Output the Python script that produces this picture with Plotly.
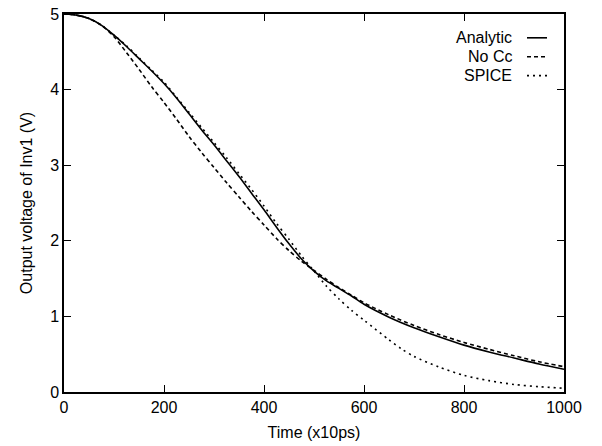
import plotly.graph_objects as go

t_analytic = [0, 25, 50, 75, 100, 125, 150, 175, 200, 225, 250, 275, 300, 325, 350, 375, 400, 425, 450, 475,
              500, 525, 550, 575, 600, 650, 700, 750, 800, 850, 900, 950, 1000]
v_analytic = [5.0, 4.985, 4.94, 4.85, 4.72, 4.57, 4.41, 4.25, 4.08, 3.89, 3.68, 3.47, 3.27, 3.06, 2.85, 2.63,
              2.41, 2.18, 1.96, 1.76, 1.60, 1.47, 1.37, 1.27, 1.16, 0.99, 0.85, 0.73, 0.62, 0.53, 0.45, 0.37, 0.30]

t_nocc = [0, 25, 50, 75, 100, 125, 150, 175, 200, 225, 250, 275, 300, 325, 350, 375, 400, 425, 450, 475,
          500, 525, 550, 575, 600, 650, 700, 750, 800, 850, 900, 950, 1000]
v_nocc = [5.0, 4.985, 4.94, 4.85, 4.70, 4.49, 4.27, 4.04, 3.83, 3.61, 3.38, 3.17, 2.97, 2.77, 2.58, 2.39,
          2.21, 2.03, 1.87, 1.73, 1.61, 1.49, 1.38, 1.28, 1.18, 1.02, 0.88, 0.76, 0.655, 0.565, 0.48, 0.40, 0.335]

t_spice = [0, 25, 50, 75, 100, 125, 150, 175, 200, 225, 250, 275, 300, 325, 350, 375, 400, 425, 450, 475,
           500, 525, 550, 575, 600, 650, 675, 700, 750, 800, 850, 900, 950, 1000]
v_spice = [5.0, 4.985, 4.94, 4.85, 4.72, 4.58, 4.42, 4.26, 4.10, 3.90, 3.70, 3.50, 3.30, 3.10, 2.89, 2.68,
           2.46, 2.23, 2.02, 1.80, 1.60, 1.40, 1.23, 1.08, 0.95, 0.69, 0.57, 0.47, 0.33, 0.22, 0.15, 0.10, 0.07, 0.05]

series_names = ["Analytic", "No Cc", "SPICE"]
x_ticks = [0, 200, 400, 600, 800, 1000]
y_ticks = [0, 1, 2, 3, 4, 5]

FONT = "Liberation Sans, Arial, Helvetica, sans-serif"
dashes = ["solid", "4px,3px", "2px,4px"]

fig = go.Figure()
for name, t, v, d in zip(series_names, [t_analytic, t_nocc, t_spice],
                         [v_analytic, v_nocc, v_spice], dashes):
    fig.add_trace(go.Scatter(x=t, y=v, mode="lines", name=name, showlegend=False,
                             line=dict(color="black", width=1.6, dash=d, shape="spline", smoothing=0.8)))

# gnuplot-style legend: right-aligned text, line sample to the right
leg_y = [0.937, 0.887, 0.837]
for name, d, yy in zip(series_names, dashes, leg_y):
    fig.add_annotation(xref="paper", yref="paper", x=0.899, y=yy, text=name, showarrow=False,
                       xanchor="right", yanchor="middle", font=dict(family=FONT, size=16, color="black"))
    fig.add_shape(type="line", xref="paper", yref="paper", x0=0.926, x1=0.966, y0=yy, y1=yy,
                  line=dict(color="black", width=1.6, dash=d))

axis_common = dict(showgrid=False, zeroline=False, showline=True, linecolor="black", linewidth=1.5,
                   mirror="ticks", ticks="inside", ticklen=7, tickwidth=1.2, tickcolor="black",
                   tickfont=dict(family=FONT, size=16, color="black"))

fig.update_xaxes(range=[0, 1000], tickvals=x_ticks, ticktext=[str(v) for v in x_ticks],
                 title=dict(text="Time (x10ps)", font=dict(family=FONT, size=16, color="black"), standoff=12),
                 **axis_common)
fig.update_yaxes(range=[0, 5], tickvals=y_ticks, ticktext=[str(v) for v in y_ticks],
                 title=dict(text="Output voltage of Inv1 (V)", font=dict(family=FONT, size=16, color="black"), standoff=14),
                 **axis_common)

fig.update_layout(width=602, height=446, margin=dict(l=64, r=38, t=14, b=54, autoexpand=False),
                  plot_bgcolor="white", paper_bgcolor="white", font=dict(family=FONT, size=16))

fig.write_html("out.html")
